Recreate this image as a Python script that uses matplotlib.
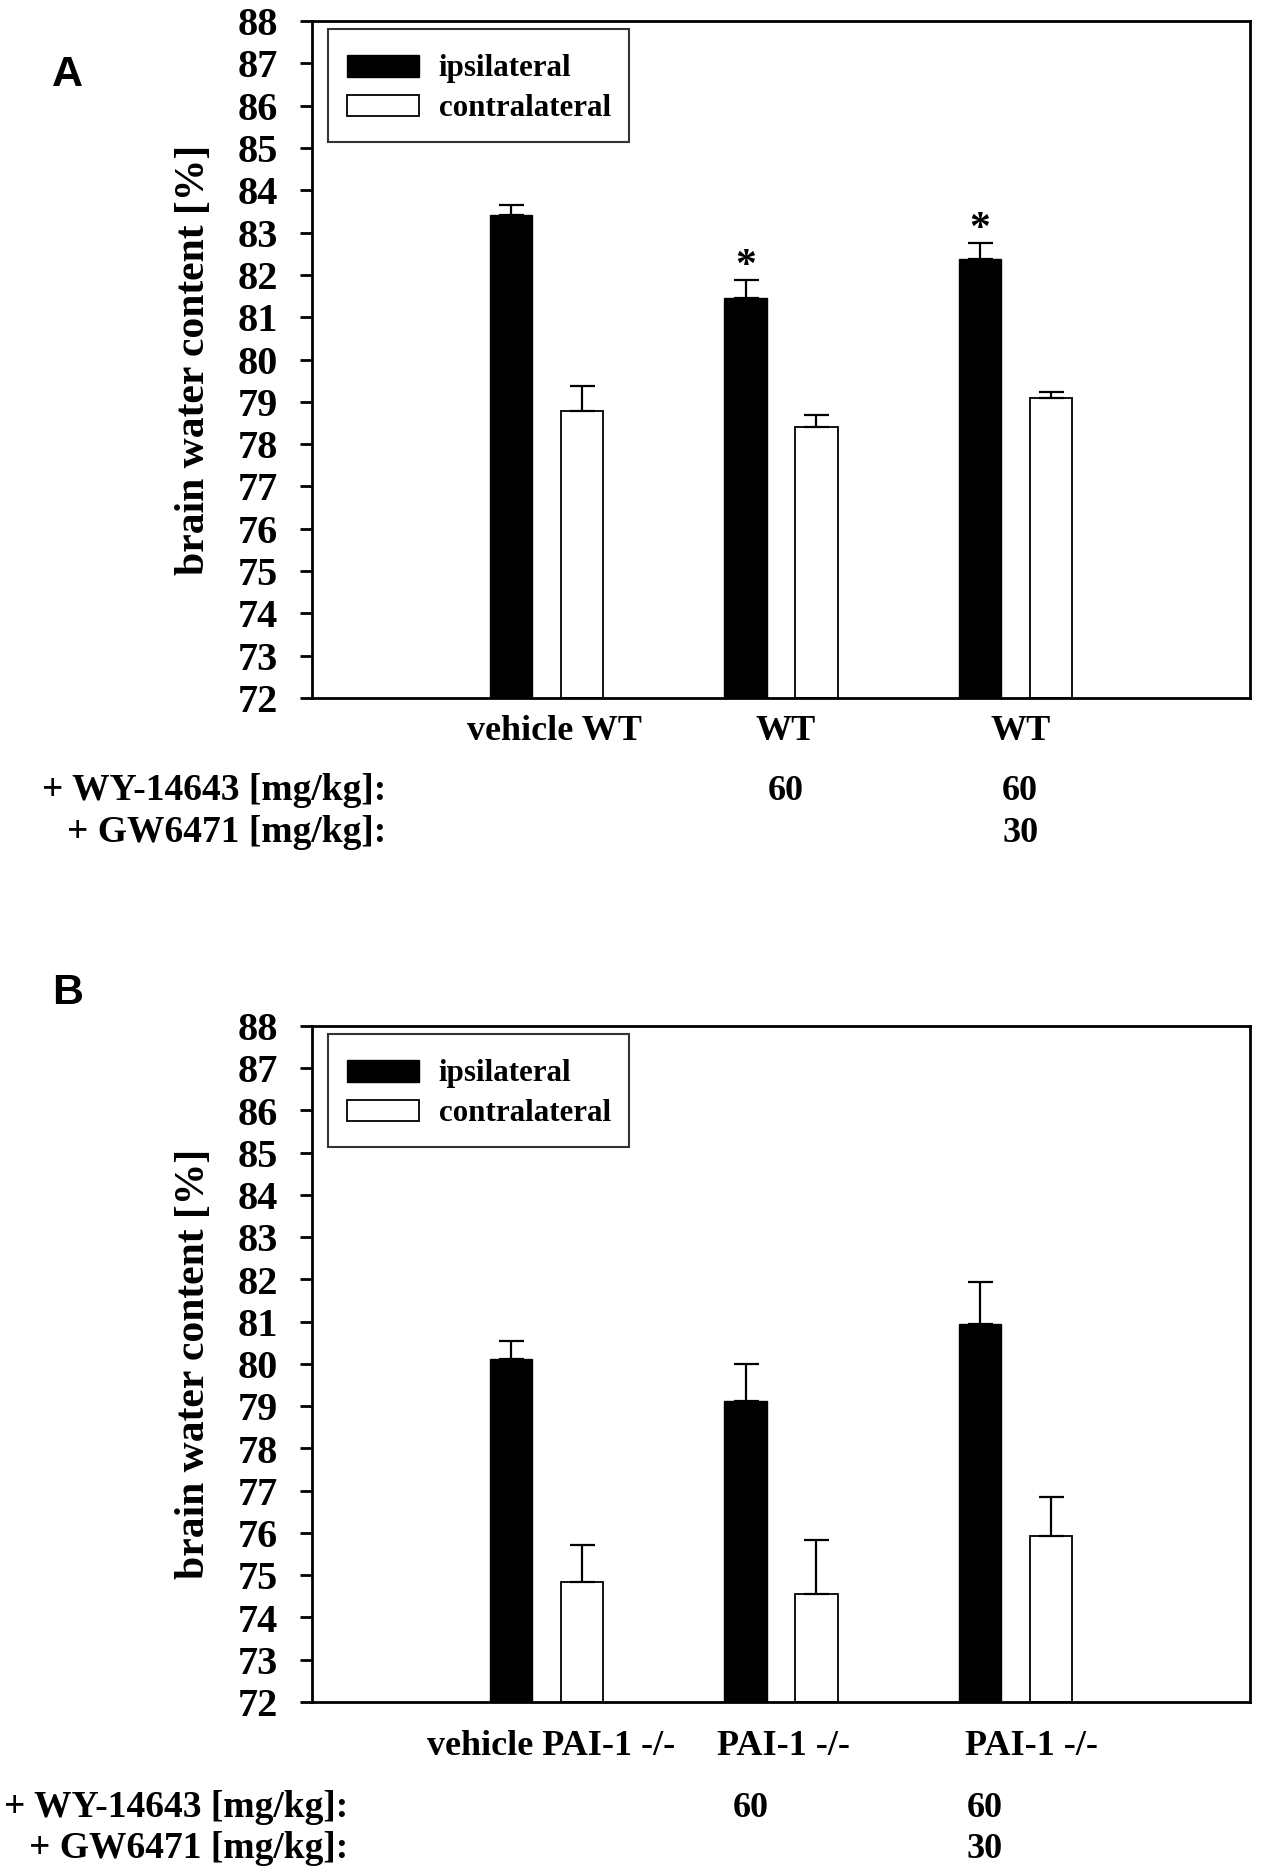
import numpy as np
import matplotlib
matplotlib.use("Agg")
import matplotlib.pyplot as plt
import matplotlib.transforms as mtransforms
from matplotlib.legend_handler import HandlerPatch
from matplotlib.patches import Rectangle

# data
groups = [1, 2, 3]
series_names = ["ipsilateral", "contralateral"]

# panel A (wild type)
ipsi_A = [83.41, 81.45, 82.37]
ipsi_A_err = [0.24, 0.43, 0.38]
contra_A = [78.78, 78.40, 79.09]
contra_A_err = [0.59, 0.29, 0.14]
labels_A = ["vehicle WT", "WT", "WT"]
stars_A = ["", "*", "*"]

# panel B (PAI-1 knockout)
ipsi_B = [80.12, 79.12, 80.95]
ipsi_B_err = [0.42, 0.88, 1.00]
contra_B = [74.84, 74.56, 75.93]
contra_B_err = [0.88, 1.27, 0.92]
labels_B = ["vehicle PAI-1 -/-", "PAI-1 -/-", "PAI-1 -/-"]
stars_B = ["", "", ""]

wy_dose = ["", "60", "60"]
gw_dose = ["", "", "30"]
row_names = ["+ WY-14643 [mg/kg]:", "+ GW6471 [mg/kg]:"]

yticks = list(range(72, 89))

W, H = 1262, 1876
serif = "Liberation Serif"

fig = plt.figure(figsize=(W / 100, H / 100), dpi=100)


def fy(px):
    return 1 - px / H


def small_box(legend, orig_handle, xdescent, ydescent, width, height, fontsize):
    # legend patch thinner than the row, centred in it
    h = 0.69 * fontsize
    return Rectangle((-xdescent, -ydescent + (height - h) / 2), width, h)


def draw_panel(ax, ipsi, ipsi_err, contra, contra_err, labels, stars,
               letter, letter_y, cat_y, cat_shift, row_y, row_right, dose_shift):
    w = 0.18
    off = 0.151
    x = np.array(groups, dtype=float)
    ekw = dict(ecolor="black", elinewidth=1.6, capthick=1.6)
    b1 = ax.bar(x - off, np.array(ipsi) - 72, w, bottom=72, color="black",
                edgecolor="black", linewidth=1, label=series_names[0],
                yerr=[np.zeros(3), ipsi_err], capsize=9, error_kw=ekw)
    b2 = ax.bar(x + off, np.array(contra) - 72, w, bottom=72, color="white",
                edgecolor="black", linewidth=1.3, label=series_names[1],
                yerr=[np.zeros(3), contra_err], capsize=9, error_kw=ekw)
    for xi, v, e, s in zip(x, ipsi, ipsi_err, stars):
        if s:
            ax.annotate(s, (xi - off, v + e), xytext=(0, 2),
                        textcoords="offset points", ha="center",
                        va="baseline", fontsize=30, family=serif,
                        fontweight="bold")

    ax.set_xlim(0, 4)
    ax.set_ylim(72, 88)
    ax.set_yticks(yticks)
    ax.set_yticklabels([str(t) for t in yticks], family=serif,
                       fontweight="bold", fontsize=29)
    ax.tick_params(axis="y", direction="out", length=8.6, width=2, pad=16)
    ax.set_xticks([])
    for sp in ax.spines.values():
        sp.set_linewidth(2)
    ax.set_ylabel("brain water content [%]", family=serif,
                  fontweight="bold", fontsize=30)
    ax.yaxis.set_label_coords(-0.106, 0.5)

    hm = {b1.patches[0]: HandlerPatch(patch_func=small_box),
          b2.patches[0]: HandlerPatch(patch_func=small_box)}
    leg = ax.legend([b1.patches[0], b2.patches[0]], series_names,
                    handler_map=hm,
                    loc="upper left", bbox_to_anchor=(0.017, 0.988),
                    borderaxespad=0, fancybox=False, frameon=True,
                    handlelength=2.35, handleheight=1.45,
                    handletextpad=0.62, borderpad=0.6, labelspacing=0.08,
                    prop=dict(family=serif, weight="bold", size=22.3))
    leg.get_frame().set_edgecolor("black")
    leg.get_frame().set_linewidth(1.5)

    trans = mtransforms.blended_transform_factory(ax.transData, fig.transFigure)
    for xi, lab, sh in zip(x, labels, cat_shift):
        ax.text(xi + sh, fy(cat_y), lab, transform=trans, ha="center",
                va="baseline", family=serif, fontweight="bold", fontsize=26)
    for xi, d1, d2 in zip(x, wy_dose, gw_dose):
        if d1:
            ax.text(xi + dose_shift, fy(row_y[0]), d1, transform=trans,
                    ha="center", va="baseline", family=serif,
                    fontweight="bold", fontsize=26)
        if d2:
            ax.text(xi + dose_shift, fy(row_y[1]), d2, transform=trans,
                    ha="center", va="baseline", family=serif,
                    fontweight="bold", fontsize=26)
    for name, ry in zip(row_names, row_y):
        fig.text(row_right / W, fy(ry), name, ha="right", va="baseline",
                 family=serif, fontweight="bold", fontsize=27)

    fig.text(52 / W, fy(letter_y), letter, ha="left", va="baseline",
             family="Liberation Sans", fontweight="bold", fontsize=31)


axA = fig.add_axes([312 / W, 1 - 698 / H, 938 / W, 677 / H])
draw_panel(axA, ipsi_A, ipsi_A_err, contra_A, contra_A_err, labels_A,
           stars_A, "A", 86, 740, [0.035, 0.02, 0.02], (800, 842), 386, 0.02)

axB = fig.add_axes([312 / W, 1 - 1702 / H, 938 / W, 676 / H])
draw_panel(axB, ipsi_B, ipsi_B_err, contra_B, contra_B_err, labels_B,
           stars_B, "B", 1004, 1755, [0.02, 0.01, 0.07], (1817, 1858), 348, -0.13)

fig.savefig("out.png", dpi=100)
